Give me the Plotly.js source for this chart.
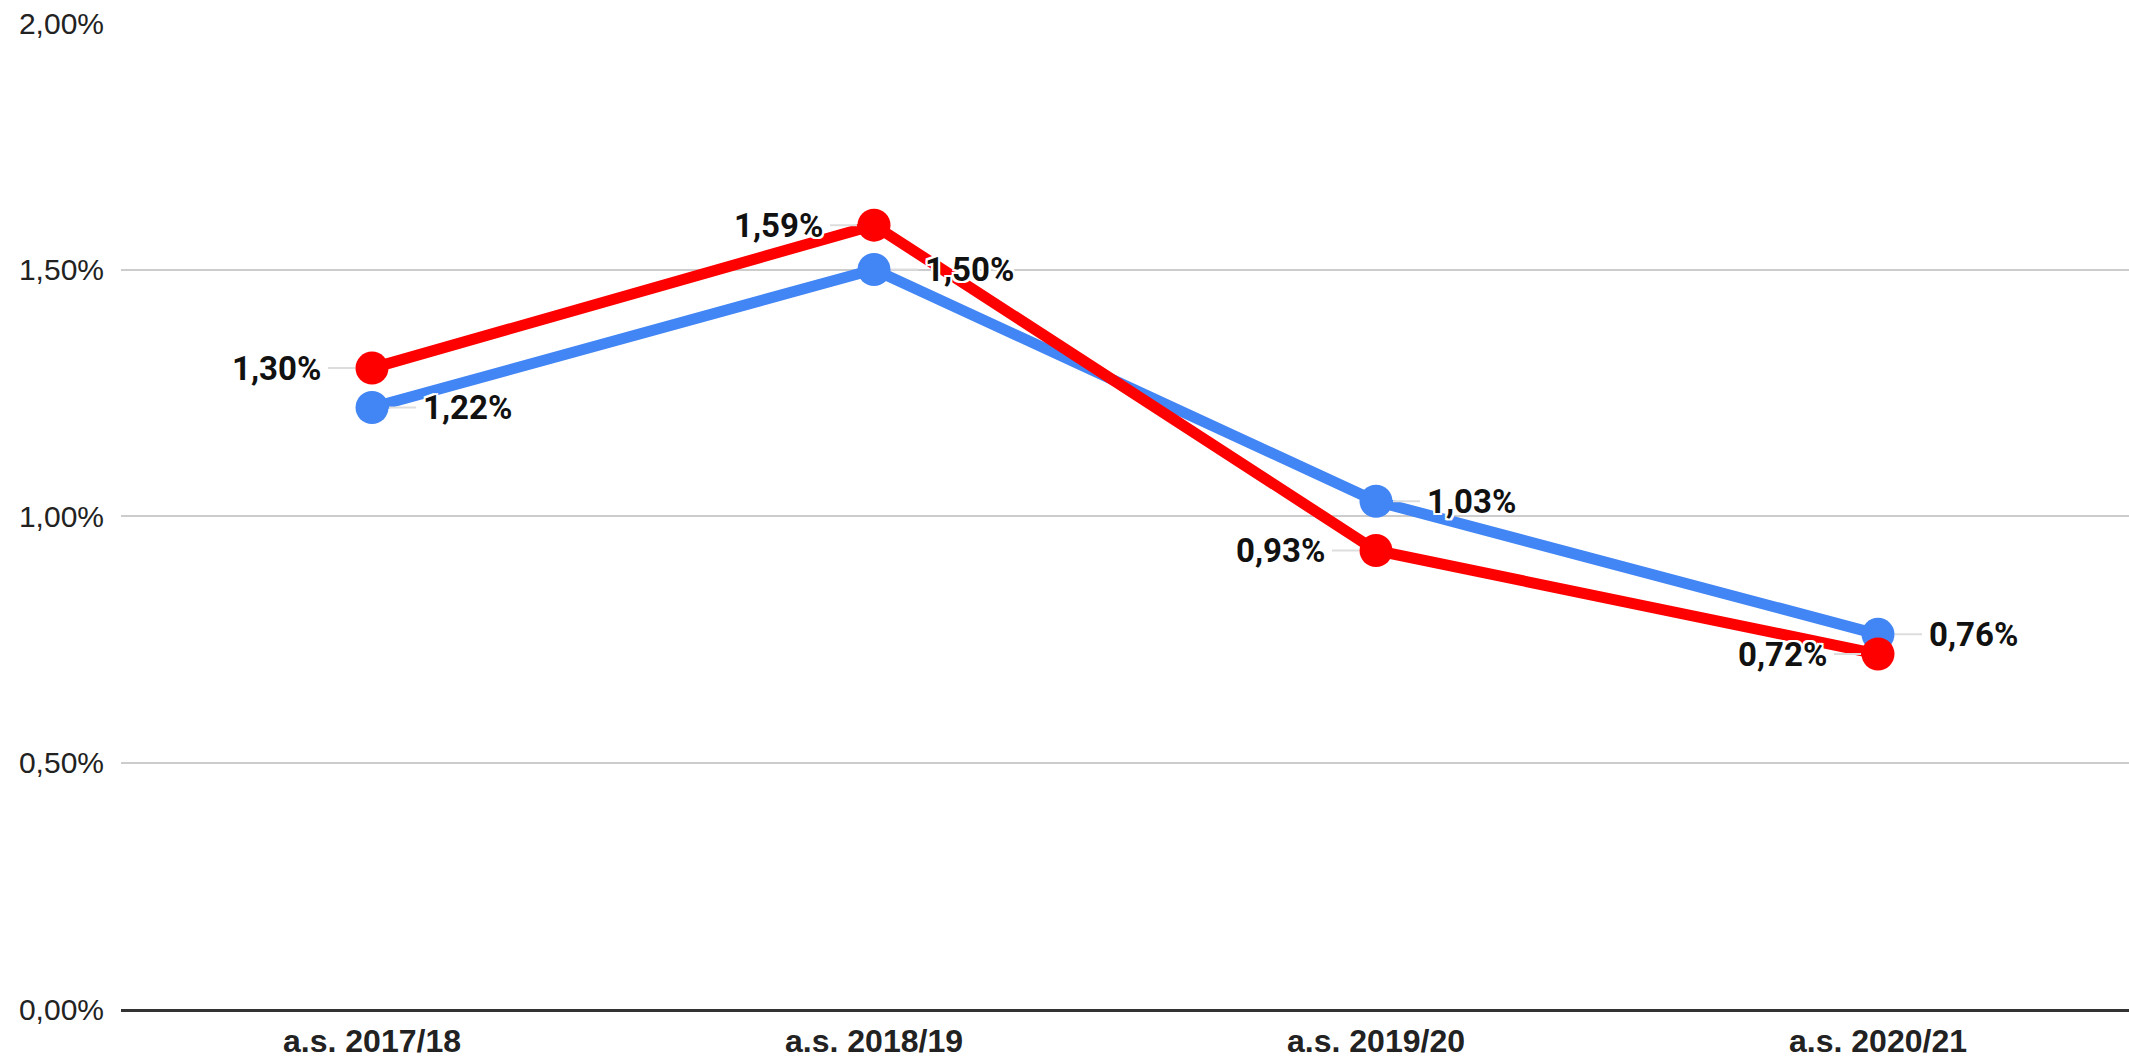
<!DOCTYPE html>
<html>
<head>
<meta charset="utf-8">
<script src="https://cdn.plot.ly/plotly-3.0.1.min.js"></script>
<style>
  html, body { margin: 0; padding: 0; background: #fff; }
  #chart { width: 2129px; height: 1064px; }
</style>
</head>
<body>
<div id="chart"></div>
<script>
// Data
var categories = ['a.s. 2017/18', 'a.s. 2018/19', 'a.s. 2019/20', 'a.s. 2020/21'];
var redValues  = [1.30, 1.59, 0.93, 0.72];
var blueValues = [1.22, 1.50, 1.03, 0.76];
var yTickValues = [0, 0.5, 1.0, 1.5, 2.0];

function fmt(v) { return v.toFixed(2).replace('.', ',') + '%'; }

var blueTrace = {
  x: categories, y: blueValues, type: 'scatter', mode: 'lines+markers',
  name: 'Blu', line: { color: '#4285F4', width: 11 },
  marker: { color: '#4285F4', size: 33 }, hoverinfo: 'skip'
};
var redTrace = {
  x: categories, y: redValues, type: 'scatter', mode: 'lines+markers',
  name: 'Rosso', line: { color: '#FF0000', width: 11 },
  marker: { color: '#FF0000', size: 33 }, hoverinfo: 'skip'
};

var halo = '2px 0 0 #fff, -2px 0 0 #fff, 0 2px 0 #fff, 0 -2px 0 #fff, 2px 2px 0 #fff, -2px -2px 0 #fff, 2px -2px 0 #fff, -2px 2px 0 #fff';
var labelFont = { family: 'Roboto, Arial, sans-serif', size: 33, color: '#111111', weight: 'bold', shadow: halo };

var annotations = [];
function addLabels(vals, side) {
  for (var i = 0; i < categories.length; i++) {
    annotations.push({
      x: categories[i], y: vals[i], xref: 'x', yref: 'y',
      text: fmt(vals[i]), showarrow: true, arrowhead: 0, arrowwidth: 2,
      arrowcolor: '#dddddd', standoff: 17,
      ax: side === 'left' ? -44 : 44, ay: 0,
      xanchor: side === 'left' ? 'right' : 'left', yanchor: 'middle',
      borderpad: 6, font: labelFont
    });
  }
}
addLabels(redValues, 'left');
addLabels(blueValues, 'right');

var layout = {
  width: 2129, height: 1064,
  margin: { l: 121, r: 0, t: 23, b: 55 },
  paper_bgcolor: '#ffffff', plot_bgcolor: '#ffffff',
  showlegend: false,
  xaxis: {
    type: 'category', range: [-0.5, 3.5],
    showgrid: false, zeroline: false,
    showline: true, linecolor: '#333333', linewidth: 3,
    ticks: '', ticklabelstandoff: 2,
    tickfont: { family: 'Liberation Sans, Arial, sans-serif', size: 32, color: '#222222', weight: 'bold' }
  },
  yaxis: {
    range: [0, 2], tickmode: 'array', tickvals: yTickValues,
    ticktext: yTickValues.map(fmt),
    showgrid: true, gridcolor: '#cccccc', gridwidth: 2,
    zeroline: false, showline: false, ticks: '', ticklabelstandoff: 16,
    tickfont: { family: 'Liberation Sans, Arial, sans-serif', size: 30, color: '#222222' }
  },
  annotations: annotations
};

Plotly.newPlot('chart', [blueTrace, redTrace], layout, { staticPlot: true, displayModeBar: false });
</script>
</body>
</html>
